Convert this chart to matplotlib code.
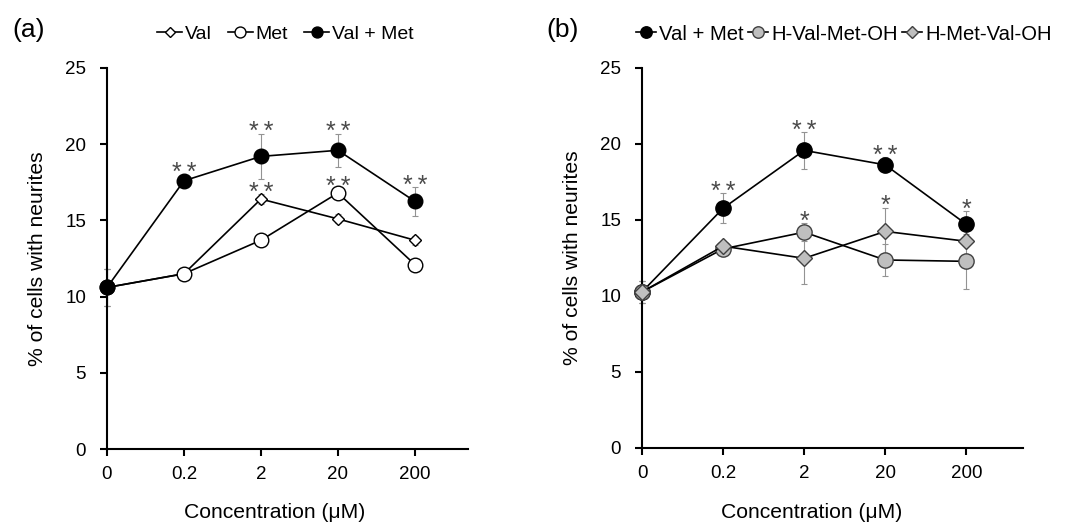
import numpy as np
import matplotlib
matplotlib.use("Agg")
import matplotlib.pyplot as plt

plt.rcParams['font.family'] = ['Liberation Sans', 'DejaVu Sans']

conc = ['0', '0.2', '2', '20', '200']

# panel (a): single amino acids and the mixture
val_mean = [10.6, 11.5, 16.4, 15.1, 13.7]
val_err = [1.2, 0.3, 0.3, 0.3, 0.3]
met_mean = [10.6, 11.5, 13.7, 16.8, 12.1]
met_err = [1.2, 0.3, 0.3, 0.3, 0.3]
mix_a_mean = [10.6, 17.6, 19.2, 19.6, 16.25]
mix_a_err = [1.2, 0.4, 1.5, 1.1, 0.93]

# panel (b): mixture vs dipeptides
mix_b_mean = [10.27, 15.77, 19.58, 18.63, 14.72]
mix_b_err = [0.72, 1.0, 1.2, 0.5, 0.85]
vm_mean = [10.27, 13.1, 14.2, 12.37, 12.28]
vm_err = [0.72, 0.3, 0.6, 1.08, 1.8]
mv_mean = [10.27, 13.28, 12.48, 14.25, 13.6]
mv_err = [0.72, 0.3, 1.66, 1.57, 0.3]

# significance marks per concentration
sig_a = {'mix': ['', '**', '**', '**', '**'],
         'val': ['', '', '**', '', ''],
         'met': ['', '', '', '**', '']}
sig_b = {'mix': ['', '**', '**', '**', '*'],
         'vm': ['', '', '*', '', ''],
         'mv': ['', '', '', '*', '']}

x = np.arange(len(conc))
gray = '#BFBFBF'
errc = '#939393'
astc = '#4a4a4a'

fig = plt.figure(figsize=(10.72, 5.26), dpi=100)
ax_a = fig.add_axes([107/1072, 1-449/526, 361/1072, 381/526])
ax_b = fig.add_axes([642/1072, 1-448/526, 381/1072, 380/526])


def draw_series(ax, mean, err, sig, label, **kw):
    ax.errorbar(x, mean, yerr=err, fmt='none', ecolor=errc, elinewidth=0.8,
                capsize=2.5, capthick=0.8, zorder=2)
    ln, = ax.plot(x, mean, '-', color='black', lw=1.2, label=label, zorder=3, **kw)
    for xi, m, e, s in zip(x, mean, err, sig):
        if s:
            # thin space between the stars
            ax.annotate('\u2009'.join(s), (xi, m + e),
                        xytext=(0, -4), textcoords='offset points',
                        ha='center', va='baseline', fontsize=18, color=astc)
    return ln


h_a = [
    draw_series(ax_a, val_mean, val_err, sig_a['val'], 'Val',
                marker='D', ms=6.6, mfc='white', mec='black', mew=1.0),
    draw_series(ax_a, met_mean, met_err, sig_a['met'], 'Met',
                marker='o', ms=10.5, mfc='white', mec='black', mew=1.0),
    draw_series(ax_a, mix_a_mean, mix_a_err, sig_a['mix'], 'Val + Met',
                marker='o', ms=10.5, mfc='black', mec='black', mew=1.0),
]
h_b = [
    draw_series(ax_b, mix_b_mean, mix_b_err, sig_b['mix'], 'Val + Met',
                marker='o', ms=11, mfc='black', mec='black', mew=1.0),
    draw_series(ax_b, vm_mean, vm_err, sig_b['vm'], 'H-Val-Met-OH',
                marker='o', ms=11, mfc=gray, mec='#404040', mew=1.0),
    draw_series(ax_b, mv_mean, mv_err, sig_b['mv'], 'H-Met-Val-OH',
                marker='D', ms=8.5, mfc=gray, mec='#404040', mew=1.0),
]

for ax, xr, xlx in [(ax_a, 4.69, 0.465), (ax_b, 4.70, 0.444)]:
    ax.set_xlim(0, xr)
    ax.set_ylim(0, 25)
    ax.set_xticks(x)
    ax.set_xticklabels(conc)
    ax.set_yticks([0, 5, 10, 15, 20, 25])
    for s in ['top', 'right']:
        ax.spines[s].set_visible(False)
    for s in ['left', 'bottom']:
        ax.spines[s].set_linewidth(1.5)
    ax.tick_params(axis='both', direction='out', length=5, width=1.5,
                   labelsize=13.5, colors='black')
    ax.tick_params(axis='y', pad=10)
    ax.tick_params(axis='x', pad=7)
    ax.set_ylabel('% of cells with neurites', fontsize=15.2, labelpad=13)
    ax.set_xlabel('Concentration (μM)', fontsize=15.2, labelpad=15)
    ax.xaxis.label.set_x(xlx)
    for ln in ax.get_lines():
        ln.set_clip_on(False)

leg_kw = dict(loc='center left', ncol=3, frameon=False,
              borderpad=0, borderaxespad=0, handletextpad=0.15,
              markerscale=0.75, bbox_transform=fig.transFigure)
ax_a.legend(handles=h_a, bbox_to_anchor=(157/1072, 1-34/526), fontsize=14,
            handlelength=1.3, columnspacing=0.8, **leg_kw)
ax_b.legend(handles=h_b, bbox_to_anchor=(636/1072, 1-34/526), fontsize=14.6,
            handlelength=1.0, columnspacing=0.2, **leg_kw)

fig.text(12/1072, 1-30/526, '(a)', fontsize=19, va='center', ha='left')
fig.text(546/1072, 1-30/526, '(b)', fontsize=19, va='center', ha='left')

fig.savefig('out.png', dpi=100)
